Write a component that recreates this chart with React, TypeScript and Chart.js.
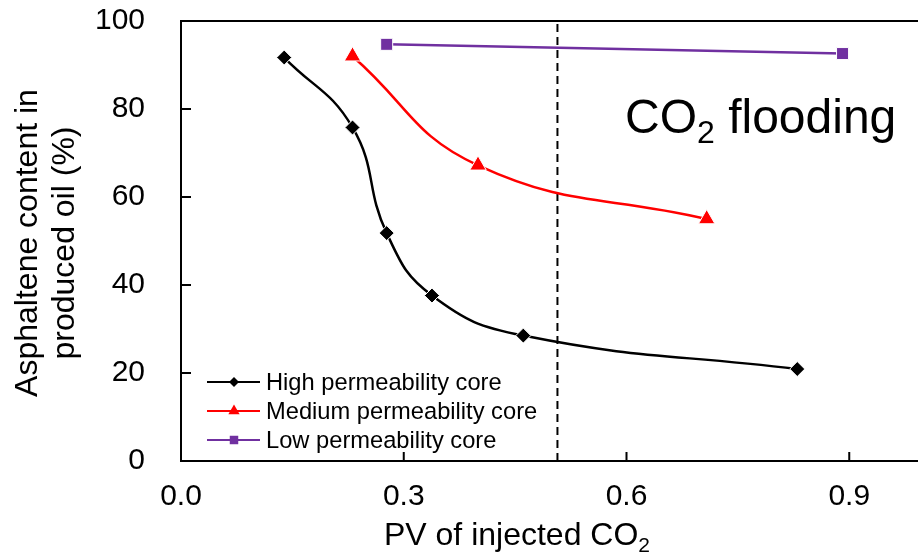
import React, { useEffect, useRef } from "react";
import { Chart, registerables } from "chart.js";

Chart.register(...registerables);

// Asphaltene content of produced oil vs. injected pore volume of CO2
const highPV = [0.139, 0.231, 0.277, 0.338, 0.461, 0.83];
const highAsph = [91.7, 75.8, 51.8, 37.6, 28.5, 20.9];
const mediumPV = [0.231, 0.4, 0.708];
const mediumAsph = [92.0, 67.2, 55.0];
const lowPV = [0.277, 0.891];
const lowAsph = [94.7, 92.6];

// vertical dashed marker (gas breakthrough)
const boundaryPV = 0.507;

const seriesNames = [
  "High permeability core",
  "Medium permeability core",
  "Low permeability core",
];
const seriesColors = ["#000000", "#FF0000", "#7030A0"];

const xTicks = [0, 0.3, 0.6, 0.9];
const yTicks = [0, 20, 40, 60, 80, 100];

const FONT = "'Liberation Sans', Arial, Helvetica, sans-serif";

const CANVAS_W = 934;
const CANVAS_H = 559;

const toPoints = (xs: number[], ys: number[]) => xs.map((x, i) => ({ x, y: ys[i] }));

// text with a trailing subscript, e.g. CO + 2
function drawWithSub(
  ctx: CanvasRenderingContext2D,
  main: string,
  sub: string,
  size: number,
  subSize: number,
  subDrop: number,
  x: number,
  y: number,
  align: "left" | "center"
) {
  ctx.save();
  ctx.textBaseline = "alphabetic";
  ctx.textAlign = "left";
  ctx.font = `${size}px ${FONT}`;
  const wMain = ctx.measureText(main).width;
  ctx.font = `${subSize}px ${FONT}`;
  const wSub = ctx.measureText(sub).width;
  const start = align === "center" ? x - (wMain + wSub) / 2 : x;
  ctx.fillStyle = "#000";
  ctx.font = `${size}px ${FONT}`;
  ctx.fillText(main, start, y);
  ctx.font = `${subSize}px ${FONT}`;
  ctx.fillText(sub, start + wMain, y + subDrop);
  ctx.restore();
}

function drawMarker(ctx: CanvasRenderingContext2D, style: string, x: number, y: number, r: number, color: string) {
  ctx.save();
  ctx.fillStyle = color;
  ctx.beginPath();
  if (style === "rectRot") {
    ctx.moveTo(x - r, y);
    ctx.lineTo(x, y - r);
    ctx.lineTo(x + r, y);
    ctx.lineTo(x, y + r);
  } else if (style === "triangle") {
    ctx.moveTo(x, y - r);
    ctx.lineTo(x + r * 0.866, y + r * 0.5);
    ctx.lineTo(x - r * 0.866, y + r * 0.5);
  } else {
    ctx.rect(x - r * 0.707, y - r * 0.707, r * 1.414, r * 1.414);
  }
  ctx.closePath();
  ctx.fill();
  ctx.restore();
}

const decorations = {
  id: "decorations",
  afterDraw(chart: any) {
    const ctx: CanvasRenderingContext2D = chart.ctx;
    const { left, right, top, bottom } = chart.chartArea;
    const xs = chart.scales.x;
    const ys = chart.scales.y;

    ctx.save();
    ctx.strokeStyle = "#000";
    ctx.lineWidth = 2;
    // top frame line
    ctx.beginPath();
    ctx.moveTo(left - 1, top);
    ctx.lineTo(right, top);
    ctx.stroke();
    // inward tick marks
    ctx.beginPath();
    for (const v of yTicks) {
      const py = ys.getPixelForValue(v);
      ctx.moveTo(left, py);
      ctx.lineTo(left + 10, py);
    }
    for (const v of xTicks) {
      const px = xs.getPixelForValue(v);
      ctx.moveTo(px, bottom);
      ctx.lineTo(px, bottom - 9);
    }
    ctx.stroke();
    ctx.restore();

    // y axis title (two lines, rotated)
    ctx.save();
    ctx.fillStyle = "#000";
    ctx.font = `32px ${FONT}`;
    ctx.textAlign = "center";
    ctx.textBaseline = "alphabetic";
    const yMid = (top + bottom) / 2 + 2;
    const titleLines = ["Asphaltene content in", "produced oil (%)"];
    const baseXs = [37, 74];
    titleLines.forEach((t, i) => {
      ctx.save();
      ctx.translate(baseXs[i], yMid);
      ctx.rotate(-Math.PI / 2);
      ctx.fillText(t, 0, 0);
      ctx.restore();
    });
    ctx.restore();

    // x axis title
    drawWithSub(ctx, "PV of injected CO", "2", 32, 21, 7, 517, 545, "center");

    // annotation
    drawWithSub(ctx, "CO", "2", 48, 32, 10, 625, 133, "left");
    ctx.save();
    ctx.font = `48px ${FONT}`;
    ctx.fillStyle = "#000";
    ctx.textBaseline = "alphabetic";
    const wCO = ctx.measureText("CO").width;
    ctx.font = `32px ${FONT}`;
    const w2 = ctx.measureText("2").width;
    ctx.font = `48px ${FONT}`;
    ctx.fillText(" flooding", 625 + wCO + w2, 133);
    ctx.restore();

    // legend
    const styles = ["rectRot", "triangle", "rect"];
    const sizes = [5, 6.5, 6];
    const rowsY = [382, 411, 440];
    ctx.save();
    ctx.font = `23.7px ${FONT}`;
    ctx.textBaseline = "middle";
    ctx.textAlign = "left";
    seriesNames.forEach((name, i) => {
      const y = rowsY[i];
      ctx.strokeStyle = seriesColors[i];
      ctx.lineWidth = 2;
      ctx.beginPath();
      ctx.moveTo(207, y);
      ctx.lineTo(260, y);
      ctx.stroke();
      drawMarker(ctx, styles[i], 234, y, sizes[i], seriesColors[i]);
      ctx.fillStyle = "#000";
      ctx.fillText(name, 266, y + 1);
    });
    ctx.restore();
  },
};

export default function App() {
  const ref = useRef<HTMLCanvasElement>(null);

  useEffect(() => {
    if (!ref.current) return;
    const chart = new Chart(ref.current, {
      type: "line",
      data: {
        datasets: [
          {
            label: seriesNames[0],
            data: toPoints(highPV, highAsph),
            borderColor: seriesColors[0],
            backgroundColor: seriesColors[0],
            borderWidth: 2.5,
            tension: 0.45,
            pointStyle: "rectRot",
            pointRadius: 7.5,
            pointBackgroundColor: seriesColors[0],
            pointBorderColor: "#ffffff",
            pointBorderWidth: 1,
          },
          {
            label: seriesNames[1],
            data: toPoints(mediumPV, mediumAsph),
            borderColor: seriesColors[1],
            backgroundColor: seriesColors[1],
            borderWidth: 2.5,
            tension: 0.45,
            pointStyle: "triangle",
            pointRadius: 9.5,
            pointBackgroundColor: seriesColors[1],
            pointBorderColor: "#ffffff",
            pointBorderWidth: 1,
          },
          {
            label: seriesNames[2],
            data: toPoints(lowPV, lowAsph),
            borderColor: seriesColors[2],
            backgroundColor: seriesColors[2],
            borderWidth: 2.5,
            tension: 0,
            pointStyle: "rect",
            pointRadius: 8.5,
            pointBackgroundColor: seriesColors[2],
            pointBorderColor: "#ffffff",
            pointBorderWidth: 1,
          },
          {
            label: "boundary",
            data: [
              { x: boundaryPV, y: 0 },
              { x: boundaryPV, y: 100 },
            ],
            borderColor: "#000000",
            borderWidth: 2,
            borderDash: [8, 5],
            pointRadius: 0,
            tension: 0,
          },
        ],
      },
      options: {
        animation: false,
        responsive: false,
        devicePixelRatio: 1,
        layout: { padding: { left: 0, top: 21, right: 3, bottom: 0 } },
        plugins: {
          legend: { display: false },
          tooltip: { enabled: false },
        },
        scales: {
          x: {
            type: "linear",
            min: 0,
            max: 1.0,
            afterBuildTicks: (s: any) => {
              s.ticks = xTicks.map((v) => ({ value: v }));
            },
            afterFit: (s: any) => {
              s.height = 98;
              s.paddingLeft = 0;
              s.paddingRight = 0;
            },
            grid: { display: false, drawTicks: false },
            border: { display: true, color: "#000", width: 2 },
            ticks: {
              padding: 18,
              color: "#000",
              font: { family: FONT, size: 30 },
              maxRotation: 0,
              callback: (v: any) => Number(v).toFixed(1),
            },
          },
          y: {
            type: "linear",
            min: 0,
            max: 100,
            afterBuildTicks: (s: any) => {
              s.ticks = yTicks.map((v) => ({ value: v }));
            },
            afterFit: (s: any) => {
              s.width = 181;
              s.paddingTop = 0;
              s.paddingBottom = 0;
            },
            grid: { display: false, drawTicks: false },
            border: { display: true, color: "#000", width: 2 },
            ticks: {
              padding: 36,
              color: "#000",
              font: { family: FONT, size: 30 },
              callback: (v: any) => String(v),
            },
          },
        },
      },
      plugins: [decorations],
    } as any);
    return () => chart.destroy();
  }, []);

  return (
    <div
      style={{
        position: "absolute",
        left: 0,
        top: 0,
        width: 918,
        height: 559,
        overflow: "hidden",
        background: "#ffffff",
      }}
    >
      <canvas
        ref={ref}
        width={CANVAS_W}
        height={CANVAS_H}
        style={{ display: "block", width: CANVAS_W, height: CANVAS_H, maxWidth: "none" }}
      />
    </div>
  );
}
